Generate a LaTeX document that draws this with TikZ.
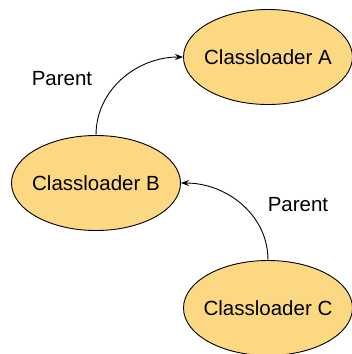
\documentclass[tikz,border=0pt]{standalone}
\usepackage{fontspec}
\setmainfont{Liberation Sans}
\usetikzlibrary{shapes.geometric,arrows.meta}
\definecolor{fillor}{HTML}{FDD882}
\begin{document}
\begin{tikzpicture}[x=1pt,y=-1pt,
  loader/.style={ellipse,draw=black,line width=0.9pt,fill=fillor,minimum width=169pt,minimum height=95pt,inner xsep=-8pt,inner ysep=0pt,font=\fontsize{20.5}{24}\selectfont},
  lbl/.style={font=\fontsize{20.5}{24}\selectfont,inner sep=0pt},
  conn/.style={line width=0.9pt,-{Stealth[length=8pt,width=6pt]}}]
\useasboundingbox (0,0) rectangle (352,354);
\node[loader] (A) at (268,57) {Classloader A};
\node[loader] (B) at (96,183) {Classloader B};
\node[loader] (C) at (268,308) {Classloader C};
\draw[conn] (B.north) to[out=90,in=180] (A.west);
\draw[conn] (C.north) to[out=90,in=0] (B.east);
\node[lbl] (p1) at (62,79) {Parent};
\node[lbl] (p2) at (298,205) {Parent};
\end{tikzpicture}
\end{document}
